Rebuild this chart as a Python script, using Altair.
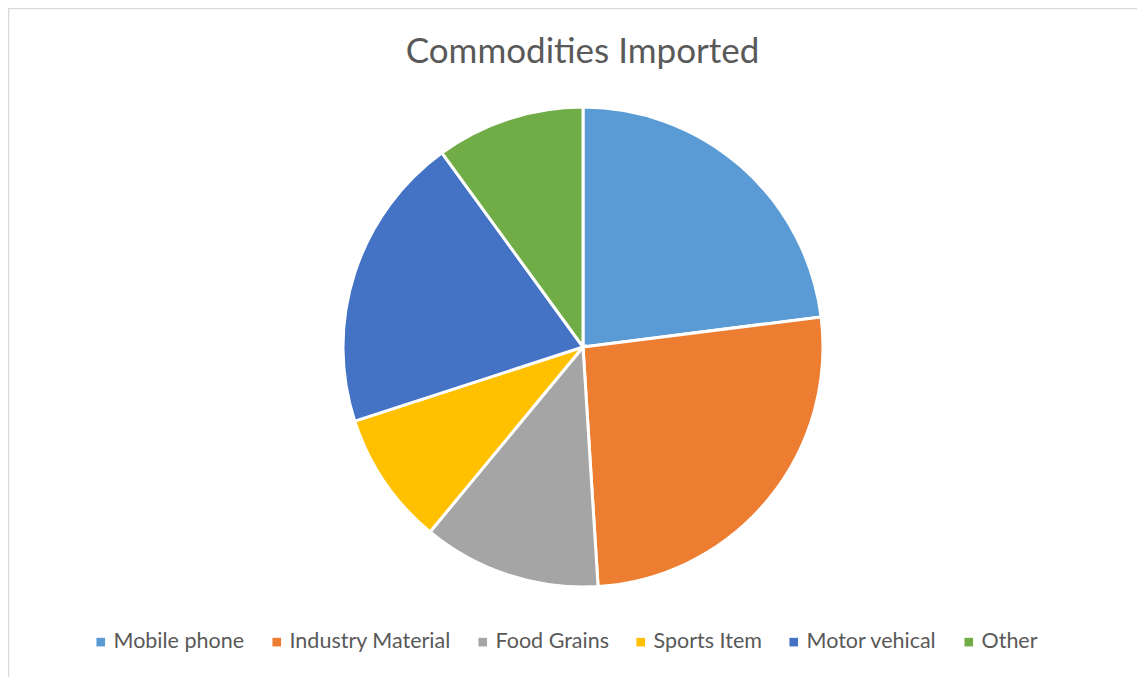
import altair as alt
import pandas as pd

categories = ["Mobile phone", "Industry Material", "Food Grains", "Sports Item", "Motor vehical", "Other"]
values = [23, 26, 12, 9, 20, 10]
colors = ["#5B9BD5", "#ED7D31", "#A5A5A5", "#FFC000", "#4472C4", "#70AD47"]

df = pd.DataFrame({"category": categories, "value": values, "idx": list(range(len(categories)))})

FONT = "Lato"
TXT = "#595959"
W, H = 1129, 669

frame = alt.Chart(pd.DataFrame({"f": [0]})).mark_rect(
    fill="white", stroke="#D9D9D9", strokeWidth=2.5
).encode(
    x=alt.value(0), x2=alt.value(W + 20), y=alt.value(0), y2=alt.value(H + 20)
)

pie = (
    alt.Chart(df)
    .mark_arc(outerRadius=240, stroke="white", strokeWidth=3)
    .encode(
        x=alt.value(575),
        y=alt.value(339),
        theta=alt.Theta("value:Q", stack=True),
        order=alt.Order("idx:Q"),
        color=alt.Color(
            "category:N",
            scale=alt.Scale(domain=categories, range=colors),
            sort=categories,
            legend=alt.Legend(
                title=None,
                orient="none",
                legendX=82,
                legendY=623,
                direction="horizontal",
                symbolType="square",
                symbolSize=74,
                symbolStrokeWidth=0,
                labelFont=FONT,
                labelFontSize=21.5,
                labelColor=TXT,
                labelOffset=2,
                labelLimit=0,
                columnPadding=21,
                padding=0,
            ),
        ),
    )
)

chart = (
    alt.layer(frame, pie)
    .properties(
        width=W,
        height=H,
        padding=0,
        autosize=alt.AutoSizeParams(type="none"),
        title=alt.TitleParams(
            "Commodities Imported",
            font=FONT,
            fontSize=35,
            fontWeight="normal",
            color=TXT,
            anchor="middle",
            dx=10,
            offset=-63,
        ),
    )
    .configure_view(stroke=None)
    .configure(background="white")
)

chart.save("out.html", embed_options={"renderer": "svg", "actions": False})
